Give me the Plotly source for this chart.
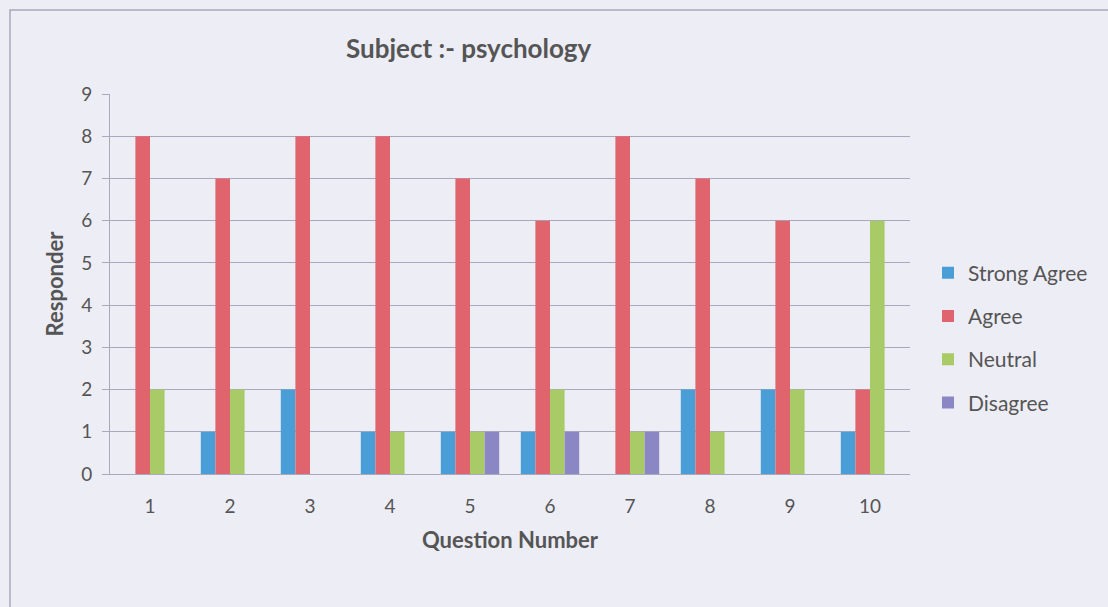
import plotly.graph_objects as go

questions = ["1", "2", "3", "4", "5", "6", "7", "8", "9", "10"]
strong_agree = [0, 1, 2, 1, 1, 1, 0, 2, 2, 1]
agree = [8, 7, 8, 8, 7, 6, 8, 7, 6, 2]
neutral = [2, 2, 0, 1, 1, 2, 1, 1, 2, 6]
disagree = [0, 0, 0, 0, 1, 1, 1, 0, 0, 0]

series = [
    ("Strong Agree", strong_agree, "#4A9ED8"),
    ("Agree", agree, "#E0646E"),
    ("Neutral", neutral, "#A8CB68"),
    ("Disagree", disagree, "#8B87C5"),
]

W, H = 1108, 607
ML, MR, MT, MB = 110, 198, 94, 133
PW, PH = W - ML - MR, H - MT - MB
FONT = "Lato, 'Open Sans', sans-serif"
TXT = "#555555"
GRID = "#A9A9B8"

fig = go.Figure()
for i, (name, vals, col) in enumerate(series):
    fig.add_trace(go.Bar(x=questions, y=vals, name=name,
                         marker=dict(color=col, line=dict(width=0)),
                         legendgroup=f"g{i}"))

fig.update_layout(
    width=W, height=H,
    margin=dict(l=ML, r=MR, t=MT, b=MB, pad=0),
    paper_bgcolor="#EDEDF5", plot_bgcolor="#EDEDF5",
    barmode="group", bargap=0.27, bargroupgap=0,
    font=dict(family=FONT, color=TXT, size=18),
    showlegend=True,
    legend=dict(x=(928 - ML) / PW, xanchor="left",
                y=(H - MB - 338) / PH, yanchor="middle",
                font=dict(size=21, color=TXT), traceorder="grouped", tracegroupgap=13,
                itemwidth=30, bgcolor="rgba(0,0,0,0)"),
    xaxis=dict(showgrid=False, showline=True, linecolor=GRID, linewidth=1, ticks="",
               ticklabelstandoff=15, tickfont=dict(size=19, color=TXT),
               title=dict(text="<b>Question Number</b>", font=dict(size=22, color=TXT), standoff=16)),
    yaxis=dict(range=[0, 9], dtick=1, showgrid=True, gridcolor=GRID, gridwidth=1,
               showline=True, linecolor=GRID, linewidth=1, ticks="outside", ticklen=7,
               tickcolor=GRID, ticklabelstandoff=6, tickfont=dict(size=19, color=TXT), zeroline=False,
               title=dict(text="<b>Responder</b>", font=dict(size=22, color=TXT), standoff=11)),
)

fig.add_annotation(text="<b>Subject :- psychology</b>", xref="paper", yref="paper",
                   x=(469 - ML) / PW, y=(H - MB - 48) / PH,
                   xanchor="center", yanchor="middle", showarrow=False,
                   font=dict(size=26, color=TXT, family=FONT))

fig.add_shape(type="rect", xref="paper", yref="paper",
              x0=(10 - ML) / PW, x1=(W + 20 - ML) / PW,
              y0=(H - MB - (H + 20)) / PH, y1=(H - MB - 10) / PH,
              line=dict(color=GRID, width=1.5), fillcolor="rgba(0,0,0,0)", layer="below")

fig.write_html("out.html", config={"displayModeBar": False},
               post_script="document.body.style.margin='0';document.body.style.overflow='hidden';")
